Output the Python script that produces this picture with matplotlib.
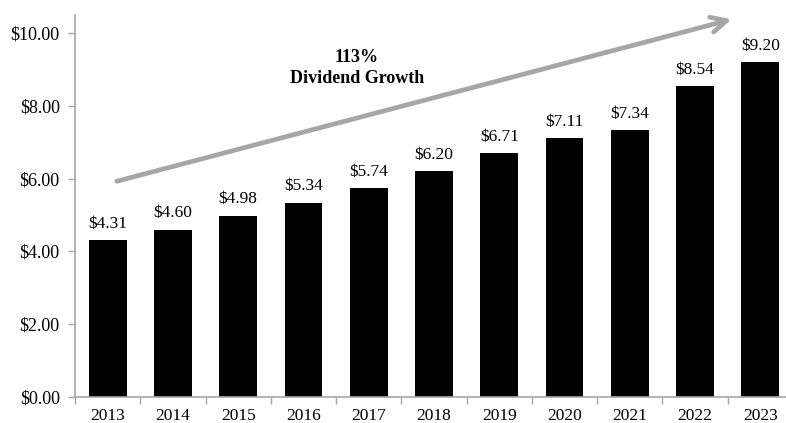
import matplotlib
matplotlib.use("Agg")
import matplotlib.pyplot as plt
import numpy as np

years = ["2013", "2014", "2015", "2016", "2017", "2018", "2019", "2020", "2021", "2022", "2023"]
dividends = [4.31, 4.60, 4.98, 5.34, 5.74, 6.20, 6.71, 7.11, 7.34, 8.54, 9.20]
y_ticks = [0, 2, 4, 6, 8, 10]
annotation_text = "113%\nDividend Growth"

plt.rcParams['font.family'] = ['Liberation Serif', 'DejaVu Serif']

fig = plt.figure(figsize=(7.86, 4.23), dpi=100)
W, H = 786, 423
left_px, right_px, bottom_px, top_px = 75, 793, 397, 15
ax = fig.add_axes([left_px / W, (H - bottom_px) / H, (right_px - left_px) / W, (bottom_px - top_px) / H])

x = np.arange(len(years))
ax.bar(x, dividends, width=0.58, color='black', zorder=2)
for xi, v in zip(x, dividends):
    ax.annotate(f"${v:.2f}", (xi, v), xytext=(0, 6), textcoords='offset points',
                ha='center', va='bottom', fontsize=12.5)

ax.set_xlim(-0.5, len(years) - 0.5)
ax.set_ylim(0, 10.5)
ax.set_yticks(y_ticks)
ax.set_yticklabels([f"${t:.2f}" for t in y_ticks], fontsize=13)
ax.set_xticks(x)
ax.set_xticklabels(years, fontsize=12.5)
ax.set_xticks(np.arange(-0.5, len(years) - 0.5 + 0.01, 1), minor=True)
ax.tick_params(axis='x', which='major', length=0, pad=8)
ax.tick_params(axis='x', which='minor', length=5, color='#A6A6A6', width=1)
ax.tick_params(axis='y', length=5, color='#A6A6A6', width=1, pad=6)

for s in ['top', 'right']:
    ax.spines[s].set_visible(False)
for s in ['left', 'bottom']:
    ax.spines[s].set_color('#A6A6A6')
    ax.spines[s].set_linewidth(1.2)

ax.annotate('', xy=(9.56, 10.38), xytext=(0.14, 5.93),
            arrowprops=dict(arrowstyle='->,head_length=1.1,head_width=0.55',
                            color='#A6A6A6', lw=3.4, shrinkA=0, shrinkB=0),
            annotation_clip=False)

ax.text(3.82, 9.04, annotation_text, ha='center', va='center', fontsize=13,
        fontweight='bold', linespacing=1.25)

fig.savefig('out.png', dpi=100)
